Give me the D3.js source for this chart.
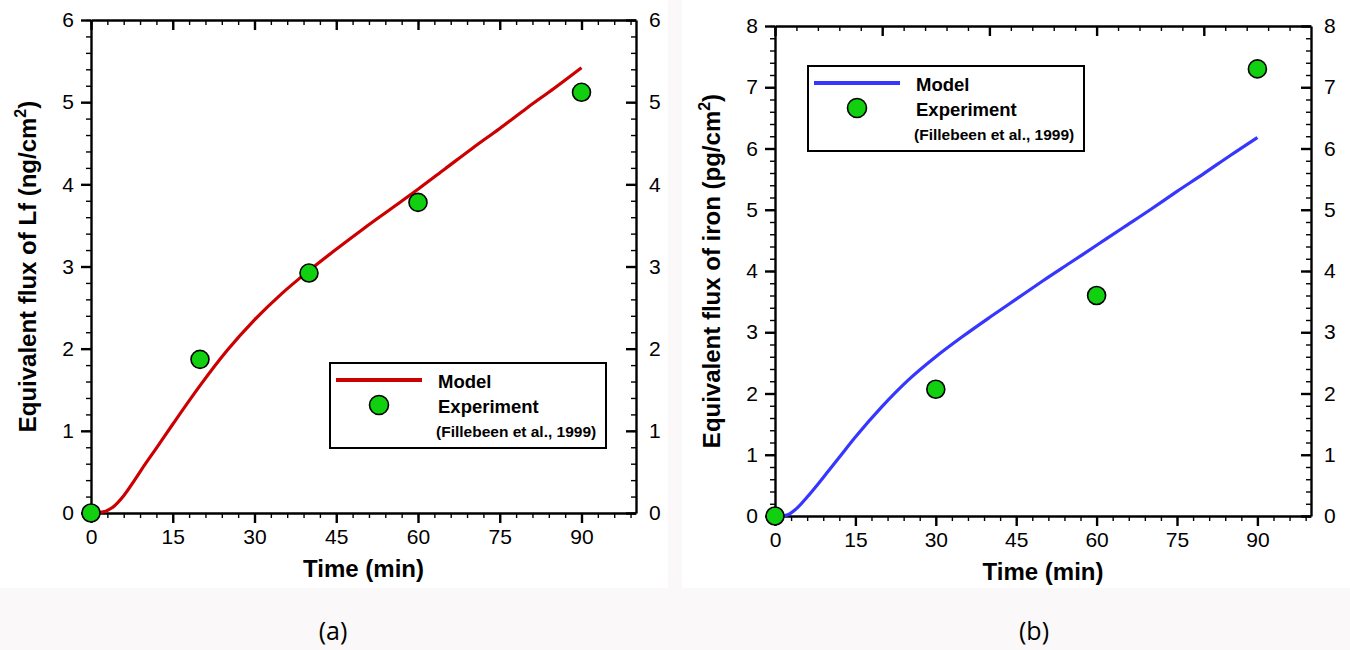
<!DOCTYPE html>
<html>
<head>
<meta charset="utf-8">
<script src="https://cdn.jsdelivr.net/npm/d3@7"></script>
<style>
  body { margin: 0; background: #faf8f9; }
  svg { display: block; font-family: "Liberation Sans", Arial, sans-serif; }
  .axis path, .axis line { stroke: #000; stroke-width: 2.4; }
  .axis text { font-family: "Liberation Sans", Arial, sans-serif; font-size: 21px; fill: #000; }
  .minor line { stroke-width: 1.4; }
</style>
</head>
<body>
<svg width="1350" height="650"></svg>
<script>
// model curve (a) - Lf flux
const timeModelA = [0, 2, 4, 6, 8, 10, 12, 15, 20, 25, 30, 35, 40, 45, 50, 55, 60, 65, 70, 75, 80, 85, 90];
const fluxModelA = [0, 0.01, 0.07, 0.21, 0.4, 0.6, 0.79, 1.08, 1.55, 1.98, 2.35, 2.67, 2.95, 3.21, 3.46, 3.7, 3.94, 4.19, 4.44, 4.68, 4.93, 5.17, 5.42];
// experiment (a)
const timeExpA = [0, 20, 40, 60, 90];
const fluxExpA = [0, 1.87, 2.92, 3.78, 5.12];

// model curve (b) - iron flux
const timeModelB = [0, 2, 4, 6, 8, 10, 12, 15, 20, 25, 30, 35, 40, 45, 50, 55, 60, 65, 70, 75, 80, 85, 90];
const fluxModelB = [0, 0.01, 0.12, 0.31, 0.52, 0.74, 0.96, 1.29, 1.79, 2.23, 2.6, 2.93, 3.24, 3.54, 3.84, 4.13, 4.42, 4.71, 5.0, 5.3, 5.59, 5.89, 6.18];
// experiment (b)
const timeExpB = [0, 30, 60, 90];
const fluxExpB = [0, 2.07, 3.6, 7.3];

// ticks
const xTicks = [0, 15, 30, 45, 60, 75, 90];
const xTopTicksB = [0, 20, 40, 60, 80];
const yTicksA = [0, 1, 2, 3, 4, 5, 6];
const yTicksB = [0, 1, 2, 3, 4, 5, 6, 7, 8];

const svg = d3.select("svg");

// white panels on the light page
svg.append("rect").attr("x", 0).attr("y", 0).attr("width", 668).attr("height", 588).attr("fill", "#fff");
svg.append("rect").attr("x", 682).attr("y", 0).attr("width", 668).attr("height", 588).attr("fill", "#fff");

function minorsOf(max, step) {
    return d3.range(0, max + 1e-9, step);
}

function makePanel(p) {
    const x = d3.scaleLinear().domain([0, 100]).range([p.left, p.right]);
    const y = d3.scaleLinear().domain([0, p.yMax]).range([p.bottom, p.top]);
    const g = svg.append("g");
    const fmt = d3.format("d");

    // minor ticks
    g.append("g").attr("class", "axis minor")
        .attr("transform", `translate(0,${p.bottom})`)
        .call(d3.axisBottom(x).tickValues(minorsOf(99, 3)).tickSize(5).tickFormat(""))
        .select(".domain").remove();
    g.append("g").attr("class", "axis minor")
        .attr("transform", `translate(0,${p.top})`)
        .call(d3.axisTop(x).tickValues(minorsOf(99, p.topMinor)).tickSize(-5).tickFormat(""))
        .select(".domain").remove();
    g.append("g").attr("class", "axis minor")
        .attr("transform", `translate(${p.left},0)`)
        .call(d3.axisLeft(y).tickValues(minorsOf(p.yMax, 0.2)).tickSize(5).tickFormat(""))
        .select(".domain").remove();
    g.append("g").attr("class", "axis minor")
        .attr("transform", `translate(${p.right},0)`)
        .call(d3.axisRight(y).tickValues(minorsOf(p.yMax, 0.2)).tickSize(-5).tickFormat(""))
        .select(".domain").remove();

    // major axes
    g.append("g").attr("class", "axis")
        .attr("transform", `translate(0,${p.bottom})`)
        .call(d3.axisBottom(x).tickValues(xTicks).tickSize(10).tickSizeOuter(0).tickPadding(6).tickFormat(fmt));
    g.append("g").attr("class", "axis")
        .attr("transform", `translate(0,${p.top})`)
        .call(d3.axisTop(x).tickValues(p.topTicks).tickSize(-10).tickSizeOuter(0).tickFormat(""));
    g.append("g").attr("class", "axis")
        .attr("transform", `translate(${p.left},0)`)
        .call(d3.axisLeft(y).tickValues(p.yTicks).tickSize(10).tickSizeOuter(0).tickPadding(7).tickFormat(fmt));
    g.append("g").attr("class", "axis")
        .attr("transform", `translate(${p.right},0)`)
        .call(d3.axisRight(y).tickValues(p.yTicks).tickSize(-10).tickSizeOuter(0).tickPadding(13).tickFormat(fmt));

    // model line
    const line = d3.line()
        .x((d, i) => x(p.tModel[i]))
        .y(d => y(d))
        .curve(d3.curveMonotoneX);
    g.append("path")
        .datum(p.fModel)
        .attr("d", line)
        .attr("fill", "none")
        .attr("stroke", p.color)
        .attr("stroke-width", 3.2);

    // experiment points
    g.selectAll("circle.exp")
        .data(p.fExp)
        .enter()
        .append("circle")
        .attr("class", "exp")
        .attr("cx", (d, i) => x(p.tExp[i]))
        .attr("cy", d => y(d))
        .attr("r", 9)
        .attr("fill", "#10d010")
        .attr("stroke", "#000")
        .attr("stroke-width", 1.6);

    // axis titles
    g.append("text")
        .attr("x", (p.left + p.right) / 2)
        .attr("y", p.bottom + 64)
        .attr("text-anchor", "middle")
        .attr("font-size", 24)
        .attr("font-weight", "bold")
        .text("Time (min)");

    const yt = g.append("text")
        .attr("transform", `translate(${p.left - 55},${(p.top + p.bottom) / 2}) rotate(-90)`)
        .attr("text-anchor", "middle")
        .attr("font-size", 24)
        .attr("font-weight", "bold");
    yt.append("tspan").text(p.yTitle);
    yt.append("tspan").attr("dy", -10).attr("font-size", 16).text("2");
    yt.append("tspan").attr("dy", 10).text(")");

    // legend
    const lg = g.append("g").attr("transform", `translate(${p.legX},${p.legY})`);
    lg.append("rect")
        .attr("width", 276).attr("height", 85)
        .attr("fill", "#fff").attr("stroke", "#000").attr("stroke-width", 2);
    lg.append("line")
        .attr("x1", 6).attr("x2", 92).attr("y1", 17).attr("y2", 17)
        .attr("stroke", p.color).attr("stroke-width", 4);
    lg.append("circle")
        .attr("cx", 49).attr("cy", 42).attr("r", 9.5)
        .attr("fill", "#10d010").attr("stroke", "#000").attr("stroke-width", 1.6);
    lg.append("text").attr("x", 108).attr("y", 25)
        .attr("font-size", 18.5).attr("font-weight", "bold").text("Model");
    lg.append("text").attr("x", 108).attr("y", 50)
        .attr("font-size", 18.5).attr("font-weight", "bold").text("Experiment");
    lg.append("text").attr("x", 106).attr("y", 74)
        .attr("font-size", 15.5).attr("font-weight", "bold").text("(Fillebeen et al., 1999)");

    // panel letter
    svg.append("text")
        .attr("x", p.letterX).attr("y", 640)
        .attr("text-anchor", "middle")
        .attr("font-family", "'Open Sans', sans-serif")
        .attr("font-size", 25)
        .text(p.letter);
}

makePanel({
    left: 91, right: 636, top: 20, bottom: 513, yMax: 6,
    yTicks: yTicksA, topTicks: xTicks, topMinor: 3,
    tModel: timeModelA, fModel: fluxModelA, tExp: timeExpA, fExp: fluxExpA,
    color: "#cc0000", yTitle: "Equivalent flux of Lf (ng/cm",
    legX: 330, legY: 363, letter: "(a)", letterX: 333
});

makePanel({
    left: 775, right: 1311, top: 26, bottom: 516, yMax: 8,
    yTicks: yTicksB, topTicks: xTopTicksB, topMinor: 4,
    tModel: timeModelB, fModel: fluxModelB, tExp: timeExpB, fExp: fluxExpB,
    color: "#3636ff", yTitle: "Equivalent flux of iron (pg/cm",
    legX: 808, legY: 66, letter: "(b)", letterX: 1034
});
</script>
</body>
</html>
